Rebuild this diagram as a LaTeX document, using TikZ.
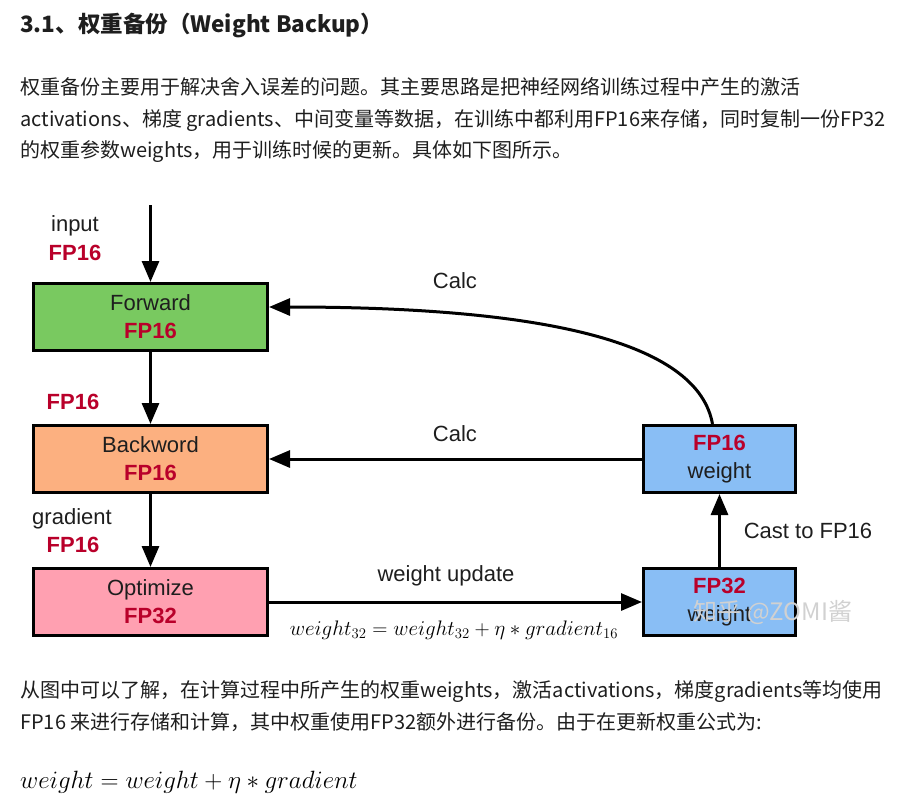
\RequirePackage{fix-cm}
\documentclass[tikz,border=0pt]{standalone}
\usepackage{fontspec}
\setmainfont{Liberation Sans}
\newfontfamily\cjk{Noto Sans CJK SC}
\usepackage{tikz}
\usetikzlibrary{arrows.meta}

\definecolor{fwdgreen}{RGB}{121,201,96}
\definecolor{bwdorange}{RGB}{252,176,128}
\definecolor{optpink}{RGB}{255,160,177}
\definecolor{wblue}{RGB}{137,190,245}
\definecolor{fpred}{RGB}{185,0,42}
\definecolor{ink}{RGB}{30,30,30}

\tikzset{
	stage/.style={draw=black, line width=3pt, minimum width=234pt, minimum height=67pt, align=center, inner sep=0pt, font=\fontsize{22}{28}\selectfont, text=ink},
	wbox/.style={stage, minimum width=152pt},
	arr/.style={line width=3pt, -{Triangle[length=21pt,width=17pt]}},
	lbl/.style={font=\fontsize{22}{26}\selectfont, text=ink, inner sep=0pt, text height=16pt, text depth=0pt},
	fp/.style={lbl, font=\fontsize{22}{26}\selectfont\bfseries, text=fpred},
	para/.style={anchor=west, inner sep=0pt, font=\cjk\fontsize{20}{24}\selectfont, text=ink, text height=17.6pt, text depth=2.4pt},
}
\newcommand{\fpt}[1]{{\bfseries\color{fpred}#1}}

\begin{document}
\begin{tikzpicture}[x=1pt,y=-1pt]
			\useasboundingbox (0,0) rectangle (911,808);
			
			%%%%% TEXT ABOVE %%%%%
			
			\node[para, font=\cjk\bfseries\fontsize{22.5}{26}\selectfont] (title) at (20,25) {3.1、权重备份（Weight Backup）};
			\node[para] (p1) at (20,87) {权重备份主要用于解决舍入误差的问题。其主要思路是把神经网络训练过程中产生的激活};
			\node[para] (p2) at (20,119) {activations、梯度 gradients、中间变量等数据，在训练中都利用FP16来存储，同时复制一份FP32};
			\node[para] (p3) at (20,150) {的权重参数weights，用于训练时候的更新。具体如下图所示。};
			
			%%%%% DIAGRAM %%%%%
			
			\node[stage, fill=fwdgreen] (fwd) at (150.5,317) {Forward\\\fpt{FP16}};
			\node[stage, fill=bwdorange] (bwd) at (150.5,459) {Backword\\\fpt{FP16}};
			\node[stage, fill=optpink] (opt) at (150.5,602) {Optimize\\\fpt{FP32}};
			\node[wbox, fill=wblue] (w16) at (719.5,459) {\fpt{FP16}\\weight};
			\node[wbox, fill=wblue] (w32) at (719.5,602) {\fpt{FP32}\\weight};
			
			\coordinate (inp) at (150.5,205);
			\draw[arr] (inp) -- (fwd);
			\draw[arr] (fwd) -- (bwd);
			\draw[arr] (bwd) -- (opt);
			\draw[arr] (opt) -- (w32);
			\draw[arr] (w32) -- (w16);
			\draw[arr] (w16) -- (bwd);
			\draw[arr] ([xshift=-7pt]w16.north) .. controls +(-14,-78) and +(290,0) .. ([yshift=10pt]fwd.east);
			
			\node[lbl] (inlbl) at (75,223) {input};
			\node[fp] (infp) at (75,252) {FP16};
			\node[fp] (actfp) at (73,401) {FP16};
			\node[lbl] (gradlbl) at (72,516) {gradient};
			\node[fp] (gradfp) at (73,544) {FP16};
			\node[lbl] (calcup) at (455,280) {Calc};
			\node[lbl] (calclow) at (455,433) {Calc};
			\node[lbl] (updlbl) at (446,573) {weight update};
			\node[inner sep=0pt, font=\fontsize{21}{24}\selectfont] (updeq) at (454,630) {$weight_{32} = weight_{32} + \eta * gradient_{16}$};
			\node[lbl] (castlbl) at (808,530) {Cast to FP16};
			
			\node[font=\cjk\fontsize{24}{28}\selectfont, text=black!18, inner sep=0pt] (mark) at (773,612) {知乎 @ZOMI酱};
			
			%%%%% TEXT BELOW %%%%%
			
			\node[para] (q1) at (20,690) {从图中可以了解，在计算过程中所产生的权重weights，激活activations，梯度gradients等均使用};
			\node[para] (q2) at (20,722) {FP16 来进行存储和计算，其中权重使用FP32额外进行备份。由于在更新权重公式为:};
			\node[anchor=west, inner sep=0pt, font=\fontsize{25}{28}\selectfont] (eq) at (20,782) {$weight = weight + \eta * gradient$};
			
		\end{tikzpicture}
\end{document}
